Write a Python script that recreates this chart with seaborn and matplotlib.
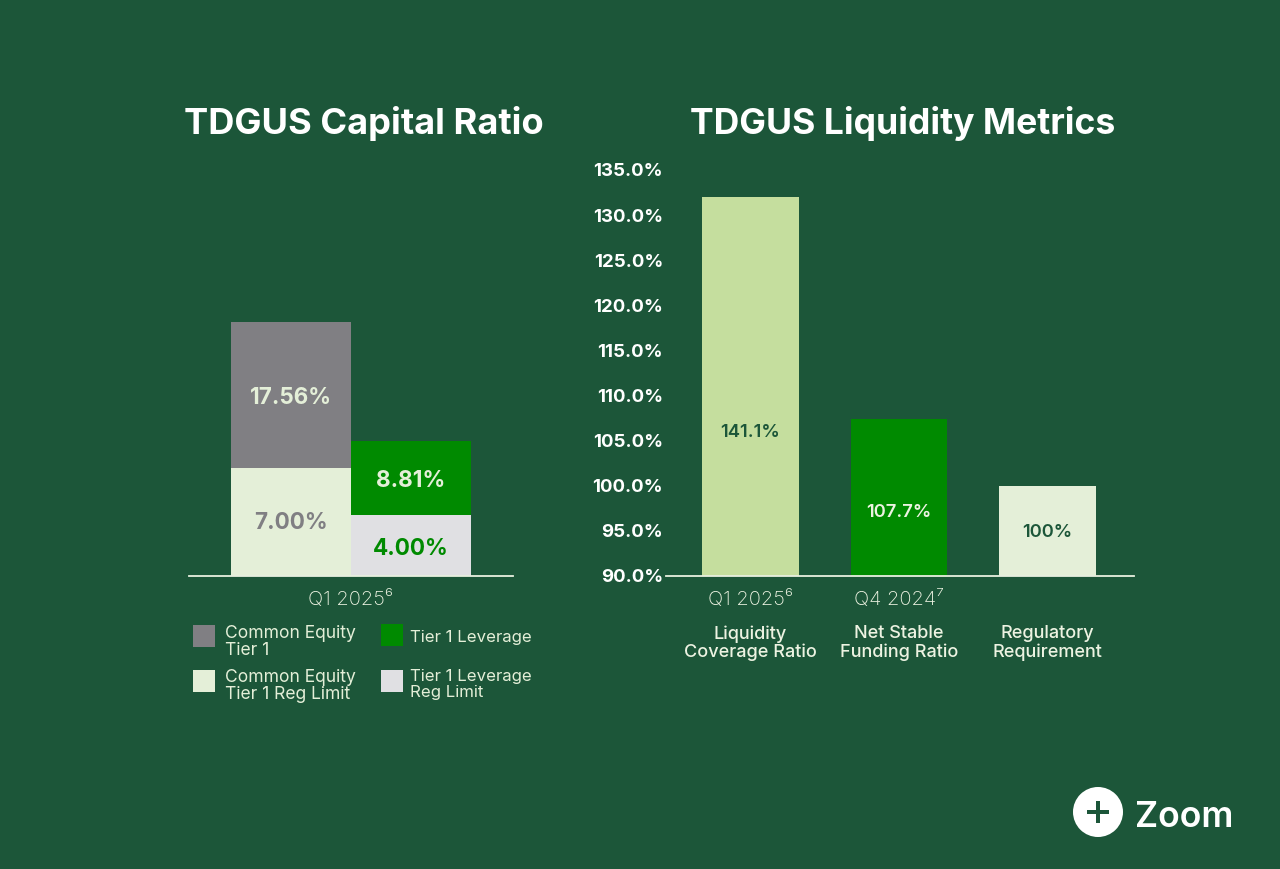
import matplotlib
matplotlib.use('Agg')
import matplotlib.pyplot as plt
import seaborn as sns
import pandas as pd
from matplotlib.legend_handler import HandlerPatch
from matplotlib.patches import Patch, Circle, Rectangle
from matplotlib.transforms import ScaledTranslation

# left chart, heights as drawn in the picture (labels say something else)
capital_groups = ['Common Equity Tier 1', 'Tier 1 Leverage']
capital_heights = [16.6, 8.81]
limit_heights = [7.05, 4.0]
capital_labels = ['17.56%', '8.81%']
limit_labels = ['7.00%', '4.00%']

# right chart
liq_names = ['Liquidity\nCoverage Ratio', 'Net Stable\nFunding Ratio', 'Regulatory\nRequirement']
liq_periods = ['Q1 2025⁶', 'Q4 2024⁷', '']
liq_heights = [132.0, 107.4, 100.0]
liq_labels = ['141.1%', '107.7%', '100%']
liq_ticks = [90, 95, 100, 105, 110, 115, 120, 125, 130, 135]

legend_left = ['Common Equity\nTier 1', 'Common Equity\nTier 1 Reg Limit']
legend_right = ['Tier 1 Leverage', 'Tier 1 Leverage\nReg Limit']

BG = '#1C5639'
GREY = '#807F83'
PALE = '#E4EFD8'
GREEN = '#008A00'
LIGHTGREY = '#E0E0E3'
LIME = '#C5DE9E'
LINE = '#E8F0E0'
CREAM = '#EDF3E2'

W, H = 1280, 870

sns.set_theme(style='white')
plt.rcParams['font.family'] = ['Inter', 'DejaVu Sans']

fig = plt.figure(figsize=(W / 100, H / 100), dpi=100, facecolor=BG)


def px_axes(left, right, top, bottom):
    return fig.add_axes([left / W, 1 - bottom / H, (right - left) / W, (bottom - top) / H])


def lifted(dy):
    # square swatch, nudged against the label block
    def make(legend, orig_handle, xdescent, ydescent, width, height, fontsize):
        return Rectangle((-xdescent, -ydescent + dy), width, width)
    return HandlerPatch(patch_func=make)


def add_legend(colors, labels, x, y, spacing, textpad, lifts, size, linespacing):
    handles = [Patch(facecolor=c, edgecolor='none') for c in colors]
    leg = fig.legend(handles, labels, frameon=False, loc='upper left', bbox_to_anchor=(x / W, 1 - y / H),
                     labelcolor=PALE, handlelength=15.8 / size, handleheight=1.25, handletextpad=textpad,
                     labelspacing=spacing, borderpad=0, borderaxespad=0, prop={'size': size, 'weight': 'normal'},
                     handler_map={h: lifted(d) for h, d in zip(handles, lifts)})
    for t in leg.get_texts():
        t.set_linespacing(linespacing)
    return leg


# background layer in pixels, for titles and the badge
bg = fig.add_axes([0, 0, 1, 1])
bg.set_xlim(0, W)
bg.set_ylim(H, 0)
bg.axis('off')
bg.text(363.5, 123.5, 'TDGUS Capital Ratio', color='white', fontsize=26.1, fontweight='bold', ha='center', va='center')
bg.text(903, 123.5, 'TDGUS Liquidity Metrics', color='white', fontsize=25.6, fontweight='bold', ha='center', va='center')
bg.add_patch(Circle((1098, 813), 25, color='white', lw=0))
bg.add_patch(Rectangle((1087, 811), 22, 4, color=BG, lw=0))
bg.add_patch(Rectangle((1096, 802), 4, 22, color=BG, lw=0))
bg.text(1184, 817.5, 'Zoom', color='white', fontsize=25.6, fontweight='semibold', ha='center', va='center')

# capital chart
ax1 = px_axes(189, 513, 171, 577)
ax1.patch.set_alpha(0)
df_top = pd.DataFrame({'group': capital_groups, 'value': capital_heights})
df_lim = pd.DataFrame({'group': capital_groups, 'value': limit_heights})
sns.barplot(data=df_top, x='group', y='value', hue='group', palette=[GREY, GREEN], width=1, saturation=1,
            legend=False, dodge=False, linewidth=0, ax=ax1)
sns.barplot(data=df_lim, x='group', y='value', hue='group', palette=[PALE, LIGHTGREY], width=1, saturation=1,
            legend=False, dodge=False, linewidth=0, ax=ax1)
ax1.set_xlim(-0.85, 1.85)
ax1.set_ylim(0, 26.5)
ax1.set_xlabel('')
ax1.set_ylabel('')
ax1.set_yticks([])
ax1.set_xticks([0.5])
ax1.set_xticklabels(['Q1 2025⁶'], color=CREAM, fontsize=14.5, fontweight='light')
ax1.tick_params(axis='x', length=0, pad=10)
sns.despine(ax=ax1, left=True)
ax1.spines['bottom'].set_color(LINE)
ax1.spines['bottom'].set_linewidth(1.3)

top_colors = [PALE, PALE]
lim_colors = [GREY, GREEN]
lim_nudge = [0.0, -0.16]
for i in range(2):
    mid = limit_heights[i] + (capital_heights[i] - limit_heights[i]) / 2
    ax1.text(i, mid - 0.16, capital_labels[i], color=top_colors[i], fontsize=16.2, fontweight='bold', ha='center', va='center')
    ax1.text(i, limit_heights[i] / 2 + lim_nudge[i], limit_labels[i], color=lim_colors[i], fontsize=16.2, fontweight='bold', ha='center', va='center')

add_legend([GREY, PALE], legend_left, 193, 625, 0.6, 0.6, [2.85, 2.15], 12.6, 1.0)
add_legend([GREEN, LIGHTGREY], legend_right, 381, 627, 1.45, 0.42, [-1.4, 0.8], 12.1, 1.1)

# liquidity chart
ax2 = px_axes(666, 1134, 171, 577)
ax2.patch.set_alpha(0)
df_liq = pd.DataFrame({'name': liq_names, 'value': liq_heights})
sns.barplot(data=df_liq, x='name', y='value', hue='name', palette=[LIME, GREEN, PALE], width=0.65, saturation=1,
            legend=False, dodge=False, linewidth=0, ax=ax2)
ax2.set_xlim(-0.569, 2.582)
ax2.set_ylim(90, 135)
ax2.set_xlabel('')
ax2.set_ylabel('')
ax2.set_yticks(liq_ticks)
ax2.set_yticklabels(['%.1f%%' % t for t in liq_ticks], color='white', fontsize=13.4, fontweight='bold', va='center_baseline')
ax2.tick_params(axis='y', length=0, pad=2)
up = ScaledTranslation(0, 1 / 100, fig.dpi_scale_trans)
for lab in ax2.get_yticklabels():
    lab.set_transform(lab.get_transform() + up)
ax2.set_xticks([0, 1, 2])
ax2.set_xticklabels(liq_periods, color=CREAM, fontsize=14.5, fontweight='light')
ax2.tick_params(axis='x', length=0, pad=10)
sns.despine(ax=ax2, left=True)
ax2.spines['bottom'].set_color(LINE)
ax2.spines['bottom'].set_linewidth(1.3)

bar_text = [BG, CREAM, BG]
label_y = [432.5, 512.5, 532.5]
for i, name in enumerate(liq_names):
    ax2.text(i, 90 + (577 - label_y[i]) / 9.02, liq_labels[i], color=bar_text[i], fontsize=13.2, fontweight='semibold', ha='center', va='center')
    bg.text(750.5 + i * 148.5, 643, name, color=CREAM, fontsize=13, fontweight='medium', ha='center', va='center', linespacing=1.05)

fig.savefig('out.png', dpi=100, facecolor=BG)
